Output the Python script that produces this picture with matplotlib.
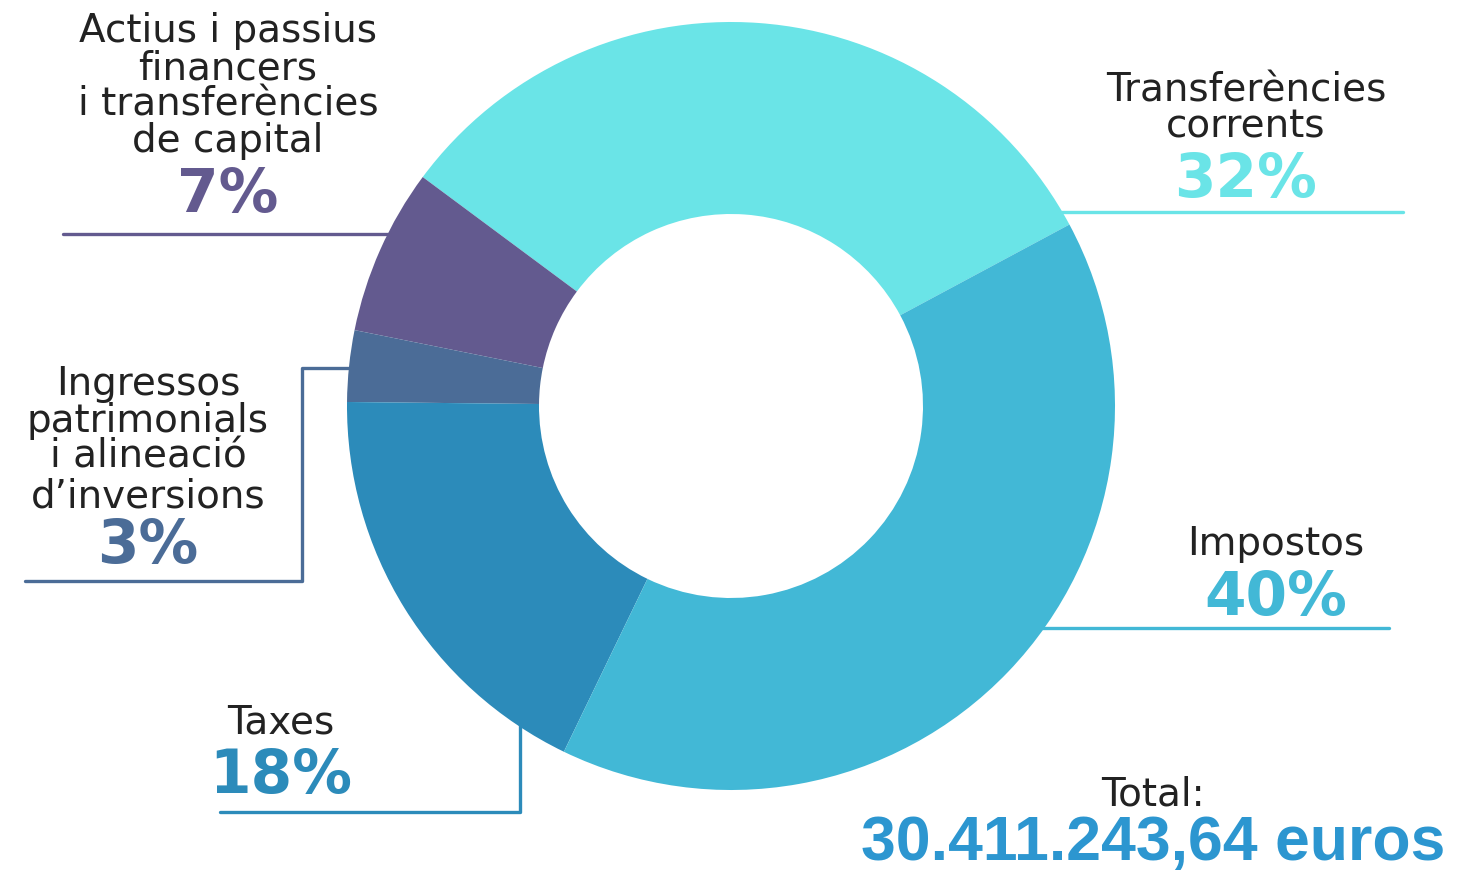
import matplotlib
matplotlib.use("Agg")
import matplotlib.pyplot as plt

# ---- data ----
categories = ["Transferències\ncorrents",
              "Actius i passius\nfinancers\ni transferències\nde capital",
              "Ingressos\npatrimonials\ni alineació\nd’inversions",
              "Taxes",
              "Impostos"]
values = [32, 7, 3, 18, 40]
colors = ["#6AE4E7", "#635A8F", "#4B6C97", "#2C8BBA", "#42B8D6"]
total_label = "Total:"
total_value = "30.411.243,64 euros"

W, H = 1484, 874
fig = plt.figure(figsize=(W / 100, H / 100), dpi=100)
ax = fig.add_axes([0, 0, 1, 1])

cx, cy, R = 731, 406, 384
ax.pie(values, colors=colors, startangle=-28.2, counterclock=False,
       center=(cx, cy), radius=R,
       wedgeprops=dict(width=R * 0.5, linewidth=0, zorder=3))
ax.set_xlim(0, W)
ax.set_ylim(H, 0)
ax.set_aspect("auto")
ax.axis("off")

REG = ["DejaVu Sans"]
BOLD = ["DejaVu Sans"]
txt_col = "#222222"
lab_fs = 28
pct_fs = 43
lw = 2.4

# label specs: (center x, baselines of text lines, baseline of pct)
specs = [
    (1246, [102, 137], 197),
    (228, [42, 79, 115, 152], 212),
    (148, [395, 432, 468, 507], 563),
    (281, [733], 793),
    (1276, [555], 615),
]
for (x, bl, pb), cat, v, c in zip(specs, categories, values, colors):
    for ln, yb in zip(cat.split("\n"), bl):
        ax.text(x, yb, ln, ha="center", va="baseline", fontsize=lab_fs,
                family=REG, color=txt_col)
    ax.text(x, pb, f"{v}%", ha="center", va="baseline", fontsize=pct_fs,
            family=BOLD, fontweight="bold", color=c)

# leader lines (drawn beneath the ring so they end at its edge)
leaders = [
    ([1403, 1000], [212, 212]),
    ([63, 430], [234, 234]),
    ([25, 302, 302, 400], [581, 581, 368, 368]),
    ([220, 520, 520], [812, 812, 700]),
    ([1389, 1000], [628, 628]),
]
for (xs, ys), c in zip(leaders, colors):
    ax.plot(xs, ys, color=c, lw=lw, solid_capstyle="round",
            solid_joinstyle="round", zorder=1)

ax.text(1153, 805, total_label, ha="center", va="baseline", fontsize=28,
        family=REG, color=txt_col)
ax.text(1153, 860, total_value, ha="center", va="baseline", fontsize=45,
        family=["Liberation Sans", "DejaVu Sans"], fontweight="bold",
        color="#2C96D0")

fig.savefig("out.png", dpi=100)
